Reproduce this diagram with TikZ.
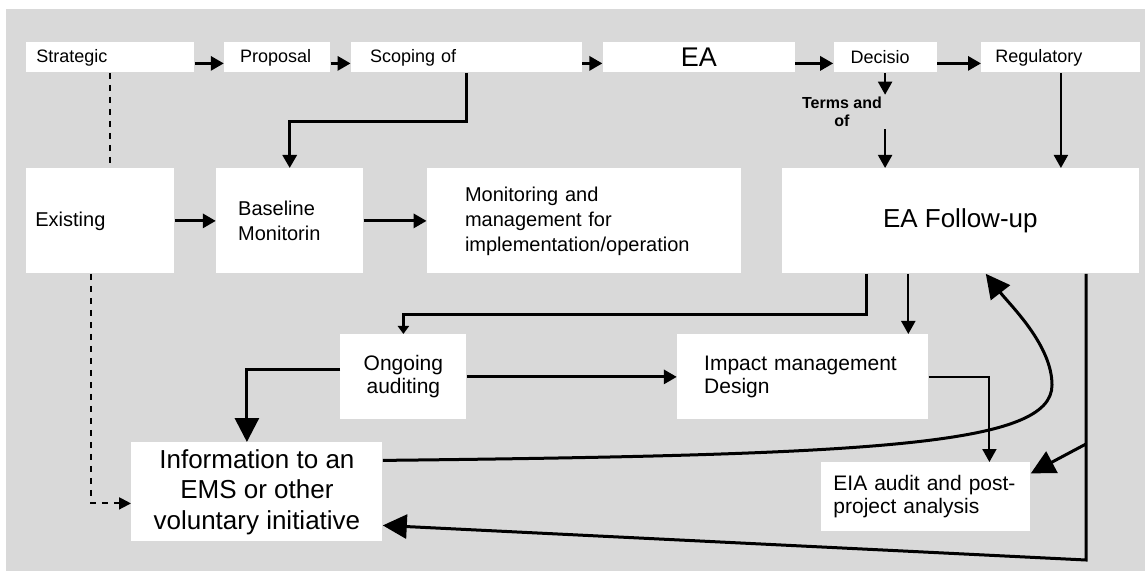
\documentclass[tikz,border=0pt]{standalone}
\usepackage{fontspec}
\setmainfont{Liberation Sans}
\usetikzlibrary{positioning,arrows.meta}

\begin{document}
\begin{tikzpicture}[
  x=0.5pt, y=-0.5pt, >={Triangle[length=6.5pt,width=7pt]},
  box/.style={fill=white, inner ysep=0pt, align=left},
  toprow/.style={box, minimum height=15pt, font=\fontsize{9}{10.8}\selectfont},
  midrow/.style={box, minimum height=52.5pt, font=\fontsize{10}{12.5}\selectfont},
  lowrow/.style={box, font=\fontsize{10.5}{11.5}\selectfont},
  bigtext/.style={box, align=center, inner sep=0pt, font=\fontsize{13}{15.25}\selectfont},
  flow/.style={->, line width=1.5pt},
  slim/.style={->, line width=1pt},
  bigarrow/.style={-{Triangle[length=12pt,width=12pt]}, line width=1.5pt},
  link/.style={dashed, line width=1pt},
]
\useasboundingbox (0,0) rectangle (1145,571);
\fill[black!15] (5.5,9.5) rectangle (1145,571);
% ---- top row ----
\node[toprow, anchor=north west, inner xsep=5pt, text width=74pt] (strat) at (26,42) {Strategic};
\node[toprow, right=14.5pt of strat, inner xsep=8pt, text width=37pt] (prop) {Proposal};
\node[toprow, right=10pt of prop, inner xsep=9.5pt, text width=96.5pt] (scop) {Scoping of};
\node[bigtext, right=10pt of scop, minimum width=96pt, minimum height=15pt,
      font=\fontsize{13.5}{15}\selectfont] (ea) {EA};
\node[toprow, right=19pt of ea, inner xsep=8.5pt, text width=34.5pt] (dec) {Decisio};
\node[toprow, right=22pt of dec, inner xsep=7pt, text width=65.5pt] (reg) {Regulatory};
\node[font=\fontsize{8}{9}\selectfont\bfseries, align=center, inner sep=1pt] (terms)
  at (842,112) {Terms and\\of};
% ---- middle row ----
\node[midrow, anchor=north west, inner xsep=4.5pt, text width=65pt] (exist) at (26,168) {Existing};
\node[midrow, right=20.5pt of exist, inner xsep=11pt, text width=51.5pt] (base) {Baseline\\Monitorin};
\node[midrow, right=31.5pt of base, inner xsep=19pt, text width=119pt] (mon)
  {Monitoring and\\management for\\implementation/operation};
\node[bigtext, right=20pt of mon, minimum width=178.5pt, minimum height=52.5pt] (fu) {EA Follow-up};
% ---- lower part ----
\node[lowrow, anchor=north west, align=center, inner sep=0pt, minimum width=63pt,
      minimum height=42.5pt] (ongo) at (340,334) {Ongoing\\auditing};
\node[lowrow, right=105pt of ongo, minimum height=42.5pt, inner xsep=13.5pt, text width=98.5pt] (imp)
  {Impact management\\Design};
\node[lowrow, anchor=north west, minimum height=34.5pt, inner xsep=6pt, text width=92.5pt] (eia)
  at (821,462) {EIA audit and post-\\project analysis};
\node[bigtext, anchor=north west, minimum width=125.5pt, minimum height=49.5pt] (info)
  at (131,442) {Information to an\\EMS or other\\voluntary initiative};
% ---- top row arrows ----
\draw[flow] ([yshift=-3pt]strat.east) -- ([yshift=-3pt]prop.west);
\draw[flow] ([yshift=-3pt]prop.east) -- ([yshift=-3pt]scop.west);
\draw[flow] ([yshift=-3pt]scop.east) -- ([yshift=-3pt]ea.west);
\draw[flow] ([yshift=-3pt]ea.east) -- ([yshift=-3pt]dec.west);
\draw[flow] ([yshift=-3pt]dec.east) -- ([yshift=-3pt]reg.west);
% ---- down to the middle row ----
\draw[flow] (scop.south) -- ++(0,49) -| (base.north);
\draw[link] (strat.south) -- (strat.south |- exist.north);
\draw[slim] (dec.south) -- (dec.south |- terms.north);
\draw[slim] (dec.south |- terms.south) -- (dec.south |- fu.north);
\draw[slim] (reg.south) -- (reg.south |- fu.north);
\draw[flow] (exist) -- (base);
\draw[flow] (base) -- (mon);
% ---- follow-up branches ----
\draw[flow, -{Triangle[length=4pt,width=5.5pt]}] ([xshift=-47pt]fu.south) -- ++(0,41) -| (ongo.north);
\draw[slim] ([xshift=-26pt]fu.south) -- ([xshift=-26pt]fu.south |- imp.north);
\coordinate (rc) at (1086,560);
\coordinate (rj) at (1086,444);
\draw[bigarrow] (fu.south -| rc) -- (rc) -- ([yshift=-16.75pt]info.east);
\draw[bigarrow] (rj) -- ([yshift=11.75pt]eia.east);
% ---- lower links ----
\draw[bigarrow] ([yshift=3.75pt]ongo.west) -| ([xshift=-5pt]info.north);
\draw[flow] (ongo) -- (imp);
\draw[slim] (imp.east) -| ([xshift=31.75pt]eia.north);
\coordinate (loop) at (1052,385);
\draw[bigarrow] ([yshift=15.75pt]info.east) .. controls (880,455) and (1052,445) .. (loop)
  .. controls (1052,345) and (1010,305) .. ([xshift=12.75pt]fu.south);
\draw[link, -{Triangle[length=6pt,width=6pt]}] ([xshift=-4.5pt]exist.south) |- ([yshift=-5.75pt]info.west);
\end{tikzpicture}
\end{document}
